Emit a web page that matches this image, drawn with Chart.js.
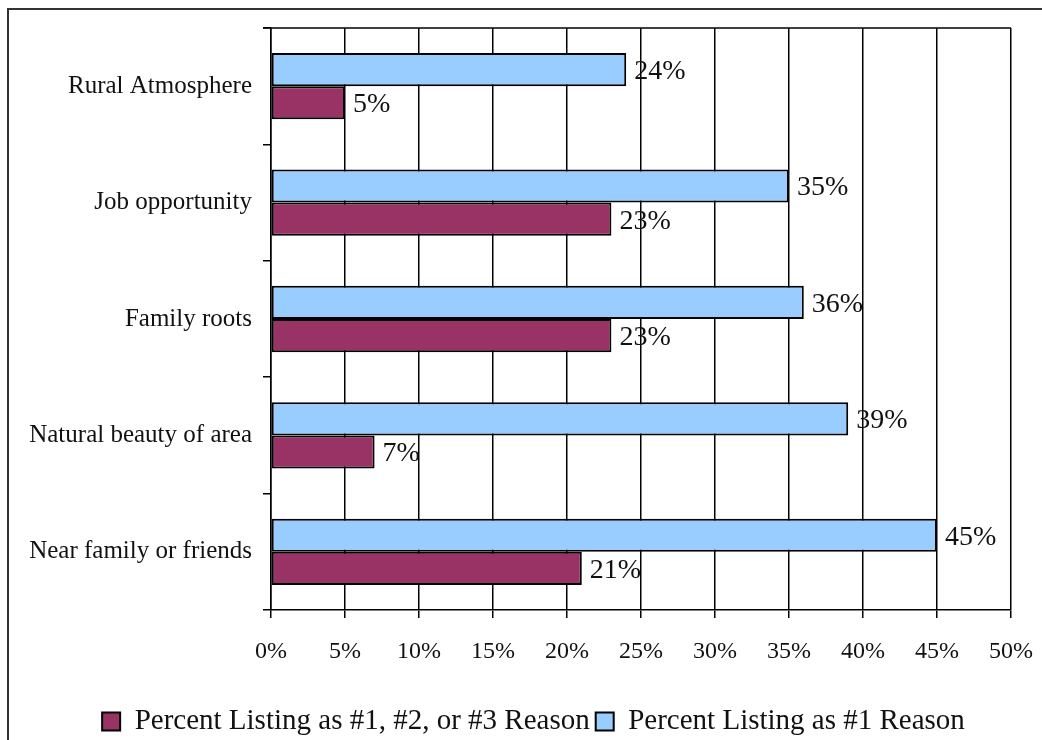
<!DOCTYPE html>
<html>
<head>
<meta charset="utf-8">
<script src="https://cdn.jsdelivr.net/npm/chart.js@4/dist/chart.umd.min.js"></script>
<style>
  body { margin: 0; background: #fff; }
  #wrap { width: 1042px; height: 740px; position: relative; }
</style>
</head>
<body>
<div id="wrap"><canvas id="myChart" width="1042" height="740"></canvas></div>
<script>
/*---------------------
~~~~~~~Chart data~~~~~~~
---------------------*/
const reasons = ['Rural Atmosphere', 'Job opportunity', 'Family roots', 'Natural beauty of area', 'Near family or friends'];
const firstReason = [24, 35, 36, 39, 45];
const topThreeReason = [5, 23, 23, 7, 21];
const xTicks = [0, 5, 10, 15, 20, 25, 30, 35, 40, 45, 50];

const serif = '"Liberation Serif", "DejaVu Serif", serif';
const padLeft = 26;

// outer frame + top border of plot area
const framePlugin = {
    id: 'frame',
    afterLayout(chart) {
        // legend sits a little right of centre in the original
        chart.legend.left += 15;
        chart.legend.right += 15;
    },
    beforeDraw(chart) {
        const c = chart.ctx;
        c.save();
        c.strokeStyle = '#333';
        c.lineWidth = 2;
        c.strokeRect(8, 9, 1100, 800);
        c.restore();
    },
    afterDraw(chart) {
        const a = chart.chartArea;
        const c = chart.ctx;
        c.save();
        c.strokeStyle = '#000';
        c.lineWidth = 1.5;
        c.beginPath();
        c.moveTo(a.left - 8, a.top);
        c.lineTo(a.right, a.top);
        c.stroke();
        c.restore();
    }
};

// value labels at the end of each bar
const valueLabels = {
    id: 'valueLabels',
    afterDatasetsDraw(chart) {
        const c = chart.ctx;
        c.save();
        c.font = '28px ' + serif;
        c.fillStyle = '#111';
        c.textBaseline = 'middle';
        chart.data.datasets.forEach((ds, i) => {
            chart.getDatasetMeta(i).data.forEach((bar, j) => {
                c.fillText(ds.data[j] + '%', bar.x + 8, bar.y + 2);
            });
        });
        c.restore();
    }
};

const ctx = document.getElementById('myChart').getContext('2d');
new Chart(ctx, {
    type: 'bar',
    data: {
        labels: reasons,
        datasets: [
            {
                label: 'Percent Listing as #1 Reason',
                data: firstReason,
                backgroundColor: '#99ccff',
                borderColor: '#000',
                borderWidth: 2,
                borderSkipped: false
            },
            {
                label: 'Percent Listing as #1, #2, or #3 Reason',
                data: topThreeReason,
                backgroundColor: '#993366',
                borderColor: '#000',
                borderWidth: 2,
                borderSkipped: false
            }
        ]
    },
    options: {
        indexAxis: 'y',
        responsive: false,
        animation: false,
        categoryPercentage: 0.57,
        barPercentage: 1,
        layout: { padding: { top: 28, right: 31, left: padLeft, bottom: -6 } },
        scales: {
            x: {
                min: 0,
                max: 50,
                afterBuildTicks: axis => { axis.ticks = xTicks.map(v => ({ value: v })); },
                afterFit: axis => {
                    axis.height = 91;
                    axis.paddingLeft = 0;
                    axis.paddingRight = 0;
                },
                grid: { color: '#000', lineWidth: 1.5, tickLength: 8 },
                border: { color: '#000', width: 1.5 },
                ticks: {
                    callback: v => v + '%',
                    font: { family: serif, size: 24 },
                    color: '#111',
                    padding: 19,
                    maxRotation: 0
                }
            },
            y: {
                afterFit: axis => { axis.width = 271 - padLeft; },
                grid: { color: '#000', lineWidth: 1.5, tickLength: 8, drawOnChartArea: false },
                border: { color: '#000', width: 1.5 },
                ticks: {
                    font: { family: serif, size: 25 },
                    color: '#111',
                    padding: 11
                }
            }
        },
        plugins: {
            legend: {
                position: 'bottom',
                reverse: true,
                labels: {
                    font: { family: serif, size: 29 },
                    color: '#111',
                    boxWidth: 18,
                    boxHeight: 18,
                    padding: 6
                }
            },
            tooltip: { enabled: false }
        }
    },
    plugins: [framePlugin, valueLabels]
});
</script>
</body>
</html>
